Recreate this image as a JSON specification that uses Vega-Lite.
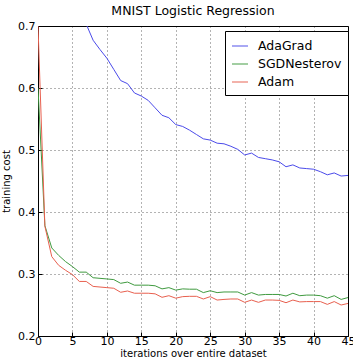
{
  "$schema": "https://vega.github.io/schema/vega-lite/v6.json",
  "width": 310,
  "height": 310,
  "autosize": {"type": "none"},
  "padding": {"left": 38, "top": 26, "right": 5, "bottom": 21},
  "background": "white",
  "title": {"text": "MNIST Logistic Regression", "font": "DejaVu Sans", "fontSize": 12.5, "fontWeight": "normal", "color": "black", "offset": 3},
  "config": {
    "view": {"stroke": "black", "strokeWidth": 1},
    "font": "DejaVu Sans"
  },
  "data": {"values": [
    {"it":7,"cost":0.703,"opt":"AdaGrad"},{"it":8,"cost":0.677,"opt":"AdaGrad"},{"it":9,"cost":0.662,"opt":"AdaGrad"},{"it":10,"cost":0.648,"opt":"AdaGrad"},{"it":11,"cost":0.630,"opt":"AdaGrad"},{"it":12,"cost":0.612,"opt":"AdaGrad"},{"it":13,"cost":0.607,"opt":"AdaGrad"},{"it":14,"cost":0.592,"opt":"AdaGrad"},{"it":15,"cost":0.587,"opt":"AdaGrad"},{"it":16,"cost":0.580,"opt":"AdaGrad"},{"it":17,"cost":0.568,"opt":"AdaGrad"},{"it":18,"cost":0.556,"opt":"AdaGrad"},{"it":19,"cost":0.552,"opt":"AdaGrad"},{"it":20,"cost":0.541,"opt":"AdaGrad"},{"it":21,"cost":0.538,"opt":"AdaGrad"},{"it":22,"cost":0.532,"opt":"AdaGrad"},{"it":23,"cost":0.525,"opt":"AdaGrad"},{"it":24,"cost":0.518,"opt":"AdaGrad"},{"it":25,"cost":0.516,"opt":"AdaGrad"},{"it":26,"cost":0.511,"opt":"AdaGrad"},{"it":27,"cost":0.510,"opt":"AdaGrad"},{"it":28,"cost":0.506,"opt":"AdaGrad"},{"it":29,"cost":0.501,"opt":"AdaGrad"},{"it":30,"cost":0.492,"opt":"AdaGrad"},{"it":31,"cost":0.495,"opt":"AdaGrad"},{"it":32,"cost":0.488,"opt":"AdaGrad"},{"it":33,"cost":0.486,"opt":"AdaGrad"},{"it":34,"cost":0.484,"opt":"AdaGrad"},{"it":35,"cost":0.481,"opt":"AdaGrad"},{"it":36,"cost":0.473,"opt":"AdaGrad"},{"it":37,"cost":0.476,"opt":"AdaGrad"},{"it":38,"cost":0.471,"opt":"AdaGrad"},{"it":39,"cost":0.470,"opt":"AdaGrad"},{"it":40,"cost":0.469,"opt":"AdaGrad"},{"it":41,"cost":0.465,"opt":"AdaGrad"},{"it":42,"cost":0.460,"opt":"AdaGrad"},{"it":43,"cost":0.463,"opt":"AdaGrad"},{"it":44,"cost":0.458,"opt":"AdaGrad"},{"it":45,"cost":0.459,"opt":"AdaGrad"},
    {"it":0,"cost":0.600,"opt":"SGDNesterov"},{"it":1,"cost":0.378,"opt":"SGDNesterov"},{"it":2,"cost":0.342,"opt":"SGDNesterov"},{"it":3,"cost":0.330,"opt":"SGDNesterov"},{"it":4,"cost":0.320,"opt":"SGDNesterov"},{"it":5,"cost":0.312,"opt":"SGDNesterov"},{"it":6,"cost":0.303,"opt":"SGDNesterov"},{"it":7,"cost":0.303,"opt":"SGDNesterov"},{"it":8,"cost":0.294,"opt":"SGDNesterov"},{"it":9,"cost":0.293,"opt":"SGDNesterov"},{"it":10,"cost":0.292,"opt":"SGDNesterov"},{"it":11,"cost":0.291,"opt":"SGDNesterov"},{"it":12,"cost":0.285,"opt":"SGDNesterov"},{"it":13,"cost":0.287,"opt":"SGDNesterov"},{"it":14,"cost":0.282,"opt":"SGDNesterov"},{"it":15,"cost":0.282,"opt":"SGDNesterov"},{"it":16,"cost":0.282,"opt":"SGDNesterov"},{"it":17,"cost":0.281,"opt":"SGDNesterov"},{"it":18,"cost":0.276,"opt":"SGDNesterov"},{"it":19,"cost":0.278,"opt":"SGDNesterov"},{"it":20,"cost":0.274,"opt":"SGDNesterov"},{"it":21,"cost":0.276,"opt":"SGDNesterov"},{"it":22,"cost":0.2755,"opt":"SGDNesterov"},{"it":23,"cost":0.2755,"opt":"SGDNesterov"},{"it":24,"cost":0.270,"opt":"SGDNesterov"},{"it":25,"cost":0.273,"opt":"SGDNesterov"},{"it":26,"cost":0.270,"opt":"SGDNesterov"},{"it":27,"cost":0.271,"opt":"SGDNesterov"},{"it":28,"cost":0.271,"opt":"SGDNesterov"},{"it":29,"cost":0.271,"opt":"SGDNesterov"},{"it":30,"cost":0.266,"opt":"SGDNesterov"},{"it":31,"cost":0.270,"opt":"SGDNesterov"},{"it":32,"cost":0.266,"opt":"SGDNesterov"},{"it":33,"cost":0.267,"opt":"SGDNesterov"},{"it":34,"cost":0.267,"opt":"SGDNesterov"},{"it":35,"cost":0.267,"opt":"SGDNesterov"},{"it":36,"cost":0.2645,"opt":"SGDNesterov"},{"it":37,"cost":0.269,"opt":"SGDNesterov"},{"it":38,"cost":0.265,"opt":"SGDNesterov"},{"it":39,"cost":0.266,"opt":"SGDNesterov"},{"it":40,"cost":0.266,"opt":"SGDNesterov"},{"it":41,"cost":0.265,"opt":"SGDNesterov"},{"it":42,"cost":0.261,"opt":"SGDNesterov"},{"it":43,"cost":0.265,"opt":"SGDNesterov"},{"it":44,"cost":0.259,"opt":"SGDNesterov"},{"it":45,"cost":0.262,"opt":"SGDNesterov"},
    {"it":0,"cost":0.700,"opt":"Adam"},{"it":1,"cost":0.377,"opt":"Adam"},{"it":2,"cost":0.328,"opt":"Adam"},{"it":3,"cost":0.314,"opt":"Adam"},{"it":4,"cost":0.306,"opt":"Adam"},{"it":5,"cost":0.299,"opt":"Adam"},{"it":6,"cost":0.288,"opt":"Adam"},{"it":7,"cost":0.288,"opt":"Adam"},{"it":8,"cost":0.280,"opt":"Adam"},{"it":9,"cost":0.279,"opt":"Adam"},{"it":10,"cost":0.278,"opt":"Adam"},{"it":11,"cost":0.277,"opt":"Adam"},{"it":12,"cost":0.2705,"opt":"Adam"},{"it":13,"cost":0.2726,"opt":"Adam"},{"it":14,"cost":0.269,"opt":"Adam"},{"it":15,"cost":0.269,"opt":"Adam"},{"it":16,"cost":0.269,"opt":"Adam"},{"it":17,"cost":0.268,"opt":"Adam"},{"it":18,"cost":0.2624,"opt":"Adam"},{"it":19,"cost":0.265,"opt":"Adam"},{"it":20,"cost":0.261,"opt":"Adam"},{"it":21,"cost":0.2635,"opt":"Adam"},{"it":22,"cost":0.264,"opt":"Adam"},{"it":23,"cost":0.264,"opt":"Adam"},{"it":24,"cost":0.2597,"opt":"Adam"},{"it":25,"cost":0.2635,"opt":"Adam"},{"it":26,"cost":0.258,"opt":"Adam"},{"it":27,"cost":0.259,"opt":"Adam"},{"it":28,"cost":0.2597,"opt":"Adam"},{"it":29,"cost":0.2597,"opt":"Adam"},{"it":30,"cost":0.2543,"opt":"Adam"},{"it":31,"cost":0.258,"opt":"Adam"},{"it":32,"cost":0.2543,"opt":"Adam"},{"it":33,"cost":0.258,"opt":"Adam"},{"it":34,"cost":0.258,"opt":"Adam"},{"it":35,"cost":0.2575,"opt":"Adam"},{"it":36,"cost":0.2537,"opt":"Adam"},{"it":37,"cost":0.258,"opt":"Adam"},{"it":38,"cost":0.255,"opt":"Adam"},{"it":39,"cost":0.2555,"opt":"Adam"},{"it":40,"cost":0.2555,"opt":"Adam"},{"it":41,"cost":0.2555,"opt":"Adam"},{"it":42,"cost":0.251,"opt":"Adam"},{"it":43,"cost":0.2555,"opt":"Adam"},{"it":44,"cost":0.250,"opt":"Adam"},{"it":45,"cost":0.2525,"opt":"Adam"}
  ]},
  "mark": {"type": "line", "clip": true, "strokeWidth": 1},
  "encoding": {
    "x": {
      "field": "it", "type": "quantitative",
      "scale": {"domain": [0, 45], "nice": false, "zero": false},
      "axis": {
        "title": "iterations over entire dataset", "titleFont": "DejaVu Sans", "titleFontSize": 10, "titleFontWeight": "normal", "titleColor": "black", "titlePadding": 2,
        "values": [0,5,10,15,20,25,30,35,40,45], "labelFont": "DejaVu Sans", "labelFontSize": 11, "labelColor": "black", "labelPadding": 3, "labelFlush": false,
        "tickSize": -4, "tickColor": "black", "domainColor": "black",
        "grid": true, "gridColor": "black", "gridDash": [1, 3], "gridOpacity": 0.6
      }
    },
    "y": {
      "field": "cost", "type": "quantitative",
      "scale": {"domain": [0.2, 0.7], "nice": false, "zero": false},
      "axis": {
        "title": "training cost", "titleFont": "DejaVu Sans", "titleFontSize": 10, "titleFontWeight": "normal", "titleColor": "black", "titlePadding": 6,
        "values": [0.2,0.3,0.4,0.5,0.6,0.7], "format": ".1f", "labelFont": "DejaVu Sans", "labelFontSize": 11, "labelColor": "black", "labelPadding": 7, "labelFlush": false,
        "tickSize": -4, "tickColor": "black", "domainColor": "black",
        "grid": true, "gridColor": "black", "gridDash": [1, 3], "gridOpacity": 0.6
      }
    },
    "color": {
      "field": "opt", "type": "nominal",
      "scale": {"domain": ["AdaGrad", "SGDNesterov", "Adam"], "range": ["#4b4bea", "#3f9a3f", "#e8604f"]},
      "legend": {
        "title": null, "orient": "none", "legendX": 187, "legendY": 5,
        "symbolType": "stroke", "symbolSize": 256, "symbolStrokeWidth": 1.2, "symbolOpacity": 0.8,
        "labelFont": "DejaVu Sans", "labelFontSize": 12.5, "labelColor": "black", "labelOffset": 9,
        "rowPadding": 2, "padding": 6, "strokeColor": "black", "fillColor": "white", "cornerRadius": 0
      }
    }
  }
}
